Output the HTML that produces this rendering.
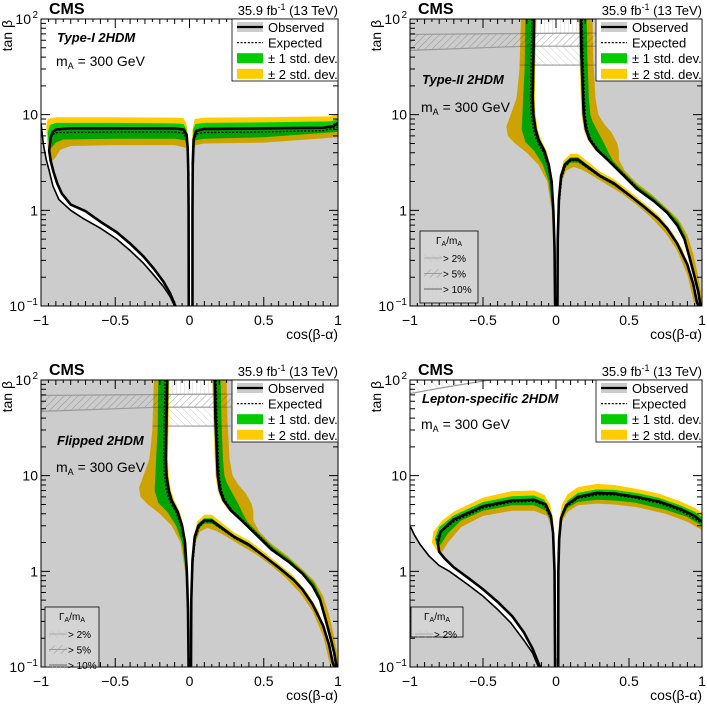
<!DOCTYPE html>
<html><head><meta charset="utf-8"><style>
html,body{margin:0;padding:0;background:#fff}
svg{display:block;font-family:"Liberation Sans",Arial,sans-serif}
</style></head><body>
<svg id="fig" width="707" height="704" viewBox="0 0 707 704" xmlns="http://www.w3.org/2000/svg">
<defs>
<pattern id="hatchA" width="5" height="5" patternUnits="userSpaceOnUse" patternTransform="rotate(45)"><line x1="0" y1="0" x2="0" y2="5" stroke="#888" stroke-width="0.8"/></pattern>
<pattern id="hatchB" width="5" height="5" patternUnits="userSpaceOnUse" patternTransform="rotate(-45)"><line x1="0" y1="0" x2="0" y2="5" stroke="#bbb" stroke-width="0.7"/></pattern>
<pattern id="hatchC" width="4" height="4" patternUnits="userSpaceOnUse"><line x1="0" y1="0" x2="0" y2="4" stroke="#ccc" stroke-width="0.8"/></pattern>
</defs>
</svg>
<script>
// ---------------- data (cos(beta-alpha), tan beta) ----------------
// Type-I
const tl_outer = [[-1,8.2],[-0.985,5],[-0.965,3.4],[-0.945,2.6],[-0.92,1.8],[-0.88,1.3],[-0.8,1.0],[-0.715,0.82],[-0.6,0.65],[-0.49,0.5],[-0.4,0.38],[-0.31,0.28],[-0.24,0.21],[-0.176,0.16],[-0.13,0.125],[-0.1,0.1]];
const tl_inner = [[-0.935,5.8],[-0.945,4.2],[-0.935,3.3],[-0.915,2.5],[-0.89,1.9],[-0.86,1.5],[-0.8,1.15],[-0.7,0.98],[-0.6,0.76],[-0.49,0.59],[-0.4,0.45],[-0.31,0.33],[-0.24,0.245],[-0.176,0.18],[-0.13,0.135],[-0.095,0.1]];
const tl_obsL = [[-0.935,5.8],[-0.92,6.6],[-0.9,7.0],[-0.8,7.2],[-0.5,7.2],[-0.1,7.2],[-0.04,7.0],[-0.02,6.2],[-0.012,4.5],[-0.008,2.5],[-0.006,1],[-0.005,0.1]];
const tl_obsR = [[0.02,0.1],[0.02,1],[0.022,3],[0.028,5.5],[0.045,6.8],[0.1,7.1],[0.5,7.2],[0.9,7.3],[0.97,7.6],[1,8.2]];
const tl_expL = [[-0.94,5.3],[-0.925,6.1],[-0.9,6.5],[-0.5,6.6],[-0.1,6.6],[-0.04,6.4],[-0.02,5.6],[-0.012,4.2]];
const tl_expR = [[0.023,4.5],[0.03,5.6],[0.05,6.3],[0.1,6.5],[0.5,6.6],[0.9,6.8],[1,7.4]];
const tl_y2L = [[-0.965,7.5],[-0.955,9.0],[-0.9,9.4],[-0.5,9.4],[-0.1,9.3],[-0.04,9.2],[-0.02,8],[-0.01,6],[-0.004,3.0],[-0.01,3.5],[-0.025,4.5],[-0.1,4.8],[-0.5,4.8],[-0.8,4.7],[-0.87,4.3],[-0.9,3.6],[-0.93,3.2],[-0.955,4.5]];
const tl_y1L = [[-0.955,6.5],[-0.94,7.8],[-0.9,8.2],[-0.5,8.2],[-0.1,8.1],[-0.04,8.0],[-0.02,7],[-0.012,5],[-0.007,3.5],[-0.015,4.5],[-0.03,5.4],[-0.1,5.6],[-0.5,5.6],[-0.85,5.5],[-0.9,5.1],[-0.93,4.5],[-0.95,5.3]];
const tl_y2R = [[0.01,3.0],[0.02,7],[0.035,9.0],[0.1,9.3],[0.5,9.4],[0.95,9.6],[1,10.2],[1,5.8],[0.5,5.1],[0.1,5.0],[0.04,4.8],[0.025,4],[0.015,3]];
const tl_y1R = [[0.017,4],[0.025,7],[0.04,8.0],[0.1,8.2],[0.5,8.3],[0.95,8.5],[1,9.0],[1,6.6],[0.5,5.8],[0.1,5.6],[0.04,5.4],[0.025,4.5]];
// Type-II (also used for flipped, nearly identical)
const tr_obsL = [[-0.15,100],[-0.155,40],[-0.16,15],[-0.155,10],[-0.14,7],[-0.12,5.5],[-0.08,4.2],[-0.05,3],[-0.03,2],[-0.018,1],[-0.01,0.4],[-0.006,0.1]];
const tr_bump = [[0.01,0.1],[0.012,0.5],[0.02,1.3],[0.035,2.3],[0.06,3.0],[0.1,3.4],[0.15,3.4],[0.21,2.9],[0.3,2.3],[0.4,1.9],[0.5,1.45],[0.6,1.1],[0.7,0.82],[0.76,0.65],[0.83,0.45],[0.9,0.27],[0.94,0.17],[0.965,0.11],[0.975,0.1]];
const tr_obsR = [[0.17,100],[0.175,40],[0.185,15],[0.19,10],[0.205,7],[0.23,5.5],[0.28,4.3],[0.36,3.3],[0.44,2.5],[0.55,1.7],[0.67,1.25],[0.76,0.95],[0.83,0.7],[0.88,0.5],[0.92,0.3],[0.95,0.2],[0.975,0.14],[0.99,0.1]];
const tr_expL = [[-0.165,100],[-0.17,40],[-0.175,15],[-0.17,10],[-0.155,7],[-0.135,5.5],[-0.09,4.1],[-0.058,3],[-0.035,2],[-0.02,1]];
const tr_expR = [[0.18,100],[0.185,40],[0.195,15],[0.2,10],[0.215,7],[0.24,5.5],[0.29,4.3],[0.37,3.3],[0.45,2.5],[0.56,1.7],[0.68,1.22],[0.77,0.92],[0.84,0.67],[0.89,0.48]];
const tr_expB = [[0.025,1.3],[0.04,2.2],[0.065,2.9],[0.1,3.3],[0.15,3.3],[0.21,2.8],[0.3,2.25],[0.4,1.85],[0.5,1.42]];
const tr_y2L = [[-0.24,100],[-0.25,30],[-0.27,15],[-0.31,10],[-0.34,7.5],[-0.33,6],[-0.28,5],[-0.2,4],[-0.12,3],[-0.06,2],[-0.03,1],[-0.015,0.4],[-0.004,0.4],[-0.012,1],[-0.025,2],[-0.04,3],[-0.065,4.2],[-0.1,5.4],[-0.125,7],[-0.14,10],[-0.145,15],[-0.14,40],[-0.135,100]];
const tr_y1L = [[-0.21,100],[-0.215,30],[-0.225,15],[-0.23,10],[-0.235,7],[-0.21,5.2],[-0.15,4.2],[-0.09,3],[-0.05,2],[-0.025,1],[-0.013,0.5],[-0.008,0.5],[-0.015,1],[-0.028,2],[-0.045,3],[-0.07,4.1],[-0.11,5.4],[-0.13,7],[-0.145,10],[-0.15,15],[-0.145,40],[-0.14,100]];
const tr_y2R = [[0.155,100],[0.16,40],[0.17,15],[0.175,10],[0.19,7],[0.215,5.5],[0.265,4.3],[0.345,3.35],[0.43,2.6],[0.54,1.8],[0.66,1.3],[0.75,1.0],[0.82,0.75],[0.87,0.53],[0.91,0.32],[0.94,0.21],[0.965,0.14],[0.98,0.1],[1,0.1],[0.99,0.15],[0.97,0.22],[0.94,0.35],[0.9,0.55],[0.84,0.8],[0.76,1.05],[0.66,1.45],[0.55,1.95],[0.47,2.6],[0.43,3.4],[0.43,4.2],[0.42,5],[0.38,6.5],[0.33,8],[0.29,10],[0.27,15],[0.255,40],[0.25,100]];
const tr_y1R = [[0.16,100],[0.165,40],[0.178,15],[0.183,10],[0.197,7],[0.222,5.5],[0.272,4.3],[0.352,3.3],[0.435,2.55],[0.545,1.75],[0.665,1.28],[0.755,0.97],[0.825,0.72],[0.875,0.51],[0.89,0.52],[0.84,0.75],[0.77,0.98],[0.67,1.35],[0.56,1.8],[0.47,2.45],[0.39,3.3],[0.36,4.0],[0.33,5],[0.29,6.5],[0.25,8.5],[0.235,10],[0.225,15],[0.215,40],[0.21,100]];
const tr_y2B = [[0.015,1],[0.025,2.0],[0.05,3.3],[0.1,3.9],[0.15,3.9],[0.21,3.3],[0.3,2.55],[0.4,2.1],[0.5,1.6],[0.6,1.2],[0.7,0.9],[0.8,0.58],[0.87,0.38],[0.92,0.22],[0.96,0.12],[0.95,0.1],[0.9,0.21],[0.83,0.38],[0.75,0.58],[0.65,0.85],[0.55,1.15],[0.45,1.5],[0.35,1.85],[0.25,2.3],[0.18,2.65],[0.12,2.85],[0.07,2.6],[0.04,2.0],[0.02,1.1],[0.012,0.5]];
const tr_y1B = [[0.02,1.2],[0.035,2.3],[0.06,3.2],[0.1,3.6],[0.15,3.6],[0.21,3.05],[0.3,2.4],[0.4,1.98],[0.5,1.5],[0.6,1.15],[0.7,0.85],[0.7,0.78],[0.6,1.05],[0.5,1.4],[0.4,1.8],[0.3,2.2],[0.21,2.75],[0.15,3.15],[0.1,3.15],[0.065,2.8],[0.04,2.1],[0.025,1.3]];
const tr_width1 = [[-1,69],[0,71],[1,72]];
const tr_width2 = [[-1,47],[-0.2,52],[0.28,52]];
const tr_width3 = [[-0.25,33],[0.28,33]];
// Lepton-specific
const br_outer = [[-1,3.0],[-0.97,2.4],[-0.93,1.9],[-0.87,1.45],[-0.8,1.15],[-0.73,1.0],[-0.6,0.72],[-0.5,0.55],[-0.4,0.4],[-0.31,0.29],[-0.22,0.19],[-0.16,0.14],[-0.12,0.1]];
const br_inner = [[-0.81,2.0],[-0.8,1.6],[-0.76,1.35],[-0.7,1.1],[-0.6,0.85],[-0.5,0.65],[-0.4,0.48],[-0.3,0.34],[-0.22,0.23],[-0.16,0.155],[-0.11,0.1]];
const br_obsL = [[-0.81,2.0],[-0.79,2.6],[-0.7,3.5],[-0.5,4.8],[-0.3,5.5],[-0.15,5.6],[-0.07,5.0],[-0.035,3.8],[-0.02,2.5],[-0.01,1],[-0.006,0.1]];
const br_obsR = [[0.015,0.1],[0.016,1],[0.022,2.2],[0.035,3.6],[0.07,4.9],[0.15,6.0],[0.28,6.6],[0.4,6.5],[0.55,6.0],[0.7,5.4],[0.85,4.5],[0.95,3.8],[1,3.3]];
const br_expL = [[-0.82,2.1],[-0.8,2.5],[-0.7,3.3],[-0.5,4.6],[-0.3,5.3],[-0.15,5.4],[-0.08,4.9],[-0.04,3.7]];
const br_expR = [[0.03,3.4],[0.07,4.7],[0.15,5.8],[0.28,6.3],[0.4,6.3],[0.55,5.8],[0.7,5.2],[0.85,4.3],[1,3.2]];
const br_y2L = [[-0.85,2.0],[-0.84,2.6],[-0.78,3.4],[-0.7,4.2],[-0.5,5.9],[-0.3,6.9],[-0.15,7.0],[-0.08,6.3],[-0.04,5.0],[-0.02,3.5],[-0.008,1.5],[-0.012,1.5],[-0.03,2.8],[-0.06,3.8],[-0.15,4.3],[-0.3,4.3],[-0.5,3.8],[-0.65,2.9],[-0.74,2.0],[-0.78,1.6],[-0.8,1.5]];
const br_y1L = [[-0.83,2.2],[-0.8,2.9],[-0.7,3.85],[-0.5,5.3],[-0.3,6.1],[-0.15,6.2],[-0.08,5.6],[-0.04,4.3],[-0.02,3.0],[-0.03,3.2],[-0.07,4.3],[-0.15,4.9],[-0.3,4.9],[-0.5,4.3],[-0.65,3.4],[-0.74,2.5],[-0.79,1.9],[-0.82,1.9]];
const br_y2R = [[0.008,1.5],[0.02,3.3],[0.04,5.0],[0.08,6.4],[0.15,7.6],[0.28,8.2],[0.4,8.0],[0.55,7.3],[0.7,6.5],[0.85,5.4],[0.95,4.6],[1,4.1],[1,2.7],[0.9,3.3],[0.75,4.0],[0.55,4.7],[0.4,5.0],[0.28,5.1],[0.15,4.9],[0.08,4.2],[0.04,3.3],[0.02,2.3],[0.012,1.5]];
const br_y1R = [[0.02,2.6],[0.04,4.2],[0.08,5.5],[0.15,6.6],[0.28,7.2],[0.4,7.1],[0.55,6.6],[0.7,5.9],[0.85,4.9],[0.95,4.2],[1,3.7],[1,3.0],[0.9,3.7],[0.75,4.4],[0.55,5.2],[0.4,5.5],[0.28,5.6],[0.15,5.3],[0.08,4.6],[0.04,3.6],[0.025,2.6]];
const br_width1 = [[-1,72],[-0.8,82],[-0.6,92],[-0.45,100]];
// axis ticks
const xTickLabels = ["\u22121","\u22120.5","0","0.5","1"];
const xTickValues = [-1,-0.5,0,0.5,1];
const yDecades = [0.1,1,10,100];

// ---------------- drawing ----------------
const NS="http://www.w3.org/2000/svg";
const svg=document.getElementById('fig');
function mk(tag,parent,attrs){const e=document.createElementNS(NS,tag);for(const k in attrs)e.setAttribute(k,attrs[k]);(parent||svg).appendChild(e);return e;}
const PAN={tl:{x0:41,y0:19,w:297,h:287},tr:{x0:410,y0:19,w:292,h:287},bl:{x0:41,y0:380,w:297,h:287},br:{x0:410,y0:380,w:292,h:287}};
function sx(p,c){return p.x0+(c+1)/2*p.w;}
function sy(p,t){return p.y0+(2-Math.log10(t))/3*p.h;}
function d(p,pts,close){return pts.map((q,i)=>(i?'L':'M')+sx(p,q[0]).toFixed(2)+','+sy(p,q[1]).toFixed(2)).join('')+(close?'Z':'');}
const rev=a=>a.slice().reverse();

function panel(key,cfg){
  const p=PAN[key];
  const g=mk('g',svg,{});
  
  
  const cp=mk('clipPath',g,{id:'clip-'+key});
  mk('rect',cp,{x:p.x0,y:p.y0,width:p.w,height:p.h});
  const pl=mk('g',g,{'clip-path':'url(#clip-'+key+')'});
  const bg=mk('rect',pl,{x:p.x0,y:p.y0,width:p.w,height:p.h,fill:'#cccccc'});
  
  
  const wh=mk('path',pl,{d:d(p,cfg.white,true),fill:'#ffffff'});
  
  
  (cfg.hatch||[]).forEach(h=>{
    const hp=mk('path',pl,{d:d(p,h.pts,true),fill:'url(#'+h.pat+')'});
    
    
  });
  (cfg.widthLines||[]).forEach(wl=>{
    const l=mk('path',pl,{d:d(p,wl,false),fill:'none',stroke:'#999',"stroke-width":1.2});
    
    
  });
  const bands=mk('g',pl,{style:'mix-blend-mode:multiply'});
  
  
  cfg.y2.forEach(b=>{const e=mk('path',bands,{d:d(p,b,true),fill:'#ffcc00'});
    
    });
  cfg.y1.forEach(b=>{const e=mk('path',bands,{d:d(p,b,true),fill:'#00cc00'});
    
    });
  cfg.exp.forEach(b=>{const e=mk('path',pl,{d:d(p,b,false),fill:'none',stroke:'#000',"stroke-width":1.3,"stroke-dasharray":'2,1.6'});
    
    });
  cfg.obs.forEach(b=>{const e=mk('path',pl,{d:d(p,b,false),fill:'none',stroke:'#000',"stroke-width":2.6,"stroke-linejoin":'round'});
    
    });
  (cfg.thin||[]).forEach(b=>{const e=mk('path',pl,{d:d(p,b,false),fill:'none',stroke:'#000',"stroke-width":1.6});
    
    });
  const fr=mk('rect',g,{x:p.x0,y:p.y0,width:p.w,height:p.h,fill:'none',stroke:'#000',"stroke-width":1});
  
  
  let td='';
  for(let i=0;i<=40;i++){const c=-1+i*0.05;const x=sx(p,c);const L=(i%10===0)?9:(i%2===0?5:3);
    td+=`M${x},${p.y0+p.h}v${-L}M${x},${p.y0}v${L}`;}
  for(let dec=0.1;dec<100;dec*=10){for(let m=1;m<=10;m++){const t=dec*m;const y=sy(p,t);const L=(m===1||m===10)?9:5;
    td+=`M${p.x0},${y}h${L}M${p.x0+p.w},${y}h${-L}`;}}
  const tk=mk('path',g,{d:td,stroke:'#000',"stroke-width":1,fill:'none'});
  
  
  xTickValues.forEach((v,i)=>{const t=mk('text',g,{x:sx(p,v),y:p.y0+p.h+19,"font-size":14,"text-anchor":'middle'});
    t.textContent=xTickLabels[i];
    
    });
  const ylab=[['10','\u22121'],['1',''],['10',''],['10','2']];
  yDecades.forEach((v,i)=>{const t=mk('text',g,{x:p.x0-3-(ylab[i][1]?(ylab[i][1].length>1?13:7):0),y:sy(p,v)+5,"font-size":14,"text-anchor":'end'});
    t.textContent=ylab[i][0];
    
    
    if(ylab[i][1]){const s=mk('text',g,{x:p.x0-3,y:sy(p,v)-1,"font-size":10,"text-anchor":'end'});s.textContent=ylab[i][1];
      
      }
  });
  const xt=mk('text',g,{x:p.x0+p.w,y:p.y0+p.h+33,"font-size":14,"text-anchor":'end'});
  xt.textContent='cos(\u03b2-\u03b1)';
  
  
  const yt=mk('text',g,{x:p.x0-29,y:p.y0+1,"font-size":14,"text-anchor":'end',transform:`rotate(-90 ${p.x0-29} ${p.y0+1})`});
  yt.textContent='tan \u03b2';
  
  
  const cms=mk('text',g,{x:p.x0+8,y:p.y0-5,"font-size":16,"font-weight":'bold'});
  cms.textContent='CMS';
  
  
  const lu=mk('text',g,{x:p.x0+p.w,y:p.y0-4,"font-size":13,"text-anchor":'end'});
  lu.innerHTML='35.9 fb<tspan dy="-5" font-size="9">-1</tspan><tspan dy="5"> (13 TeV)</tspan>';
  
  
  const mt=mk('text',g,{x:p.x0+cfg.lab[0],y:p.y0+cfg.lab[1],"font-size":13,"font-weight":'bold',"font-style":'italic'});
  mt.textContent=cfg.title;
  
  
  const ma=mk('text',g,{x:p.x0+cfg.lab[0]-1,y:p.y0+cfg.lab[2],"font-size":14});
  ma.innerHTML='m<tspan dy="3" font-size="9">A</tspan><tspan dy="-3"> = 300 GeV</tspan>';
  
  
  const lg=mk('g',g,{});
  
  
  const lx=p.x0+p.w-106, ly=p.y0;
  mk('rect',lg,{x:lx,y:ly,width:106,height:62,fill:'#fff',stroke:'#000',"stroke-width":0.8});
  const names=['Observed','Expected','\u00b1 1 std. dev.','\u00b1 2 std. dev.'];
  names.forEach((n,i)=>{const cy=ly+8+i*15.6;
    const e=mk('g',lg,{});
    
    
    if(i===0){mk('rect',e,{x:lx+5,y:cy-5,width:26,height:10,fill:'#cccccc'});mk('line',e,{x1:lx+5,x2:lx+31,y1:cy,y2:cy,stroke:'#000',"stroke-width":2.2});}
    if(i===1){mk('line',e,{x1:lx+5,x2:lx+31,y1:cy,y2:cy,stroke:'#000',"stroke-width":1.3,"stroke-dasharray":'2,1.6'});}
    if(i===2){mk('rect',e,{x:lx+5,y:cy-5,width:26,height:10,fill:'#00cc00'});}
    if(i===3){mk('rect',e,{x:lx+5,y:cy-5,width:26,height:10,fill:'#ffcc00'});}
    const t=mk('text',e,{x:lx+36,y:cy+5,"font-size":13});t.textContent=n;});
  if(cfg.glegend){const [gx,gy,gw,gh,n]=cfg.glegend;
    const gl=mk('g',g,{});
    
    
    mk('rect',gl,{x:p.x0+gx,y:p.y0+gy,width:gw,height:gh,fill:'#d4d4d4',stroke:'#000',"stroke-width":0.8});
    const tt=mk('text',gl,{x:p.x0+gx+gw/2,y:p.y0+gy+13,"font-size":10,"text-anchor":'middle'});
    tt.innerHTML='\u0393<tspan dy="2" font-size="7">A</tspan><tspan dy="-2">/m</tspan><tspan dy="2" font-size="7">A</tspan>';
    const labs=['> 2%','> 5%','> 10%'];
    for(let i=0;i<n;i++){const cy=p.y0+gy+27+i*15.5;
      mk('rect',gl,{x:p.x0+gx+4,y:cy-4,width:18,height:8,fill:['url(#hatchB)','url(#hatchA)','url(#hatchC)'][i]});
      mk('line',gl,{x1:p.x0+gx+4,x2:p.x0+gx+22,y1:cy,y2:cy,stroke:['#aaa','#999','#666'][i],"stroke-width":1});
      const lt=mk('text',gl,{x:p.x0+gx+23,y:cy+4,"font-size":10});lt.textContent=labs[i];}
  }
}

const tlWhite=[[-1,100],[1,100]].concat(rev(tl_obsR),rev(tl_obsL),tl_inner,rev(tl_outer));
panel('tl',{white:tlWhite,y2:[tl_y2L,tl_y2R],y1:[tl_y1L,tl_y1R],exp:[tl_expL,tl_expR],obs:[tl_obsL,tl_obsR,tl_inner],thin:[tl_outer],
  title:'Type-I 2HDM',lab:[16,23,47]});

const trWhite=tr_obsL.concat(tr_bump,rev(tr_obsR));
const trHatch=[{pts:tr_width2.concat(rev(tr_width1)).concat([[-1,69]]),pat:'hatchA'},{pts:[[-1,69],[1,72],[1,100],[-1,100]],pat:'hatchC'},{pts:[[-0.25,33],[0.28,33],[0.28,52],[-0.25,52]],pat:'hatchB'}];
panel('tr',{white:trWhite,hatch:trHatch,widthLines:[tr_width1,tr_width2,tr_width3],y2:[tr_y2L,tr_y2R,tr_y2B],y1:[tr_y1L,tr_y1R,tr_y1B],exp:[tr_expL,tr_expR,tr_expB],obs:[tr_obsL,tr_obsR,tr_bump],
  title:'Type-II 2HDM',lab:[12,65,93],glegend:[10,212,58,72,3]});

panel('bl',{white:trWhite,hatch:trHatch,widthLines:[tr_width1,tr_width2,tr_width3],y2:[tr_y2L,tr_y2R,tr_y2B],y1:[tr_y1L,tr_y1R,tr_y1B],exp:[tr_expL,tr_expR,tr_expB],obs:[tr_obsL,tr_obsR,tr_bump],
  title:'Flipped 2HDM',lab:[16,65,92],glegend:[4,227,54,60,3]});

const brWhite=[[-1,100],[1,100]].concat(rev(br_obsR),rev(br_obsL),br_inner,rev(br_outer));
panel('br',{white:brWhite,hatch:[{pts:br_width1.concat([[-1,100]]),pat:'hatchB'}],widthLines:[br_width1],y2:[br_y2L,br_y2R],y1:[br_y1L,br_y1R],exp:[br_expL,br_expR],obs:[br_obsL,br_obsR,br_inner],thin:[br_outer],
  title:'Lepton-specific 2HDM',lab:[12,23,49],glegend:[1,227,52,30,1]});
</script>
</body></html>
